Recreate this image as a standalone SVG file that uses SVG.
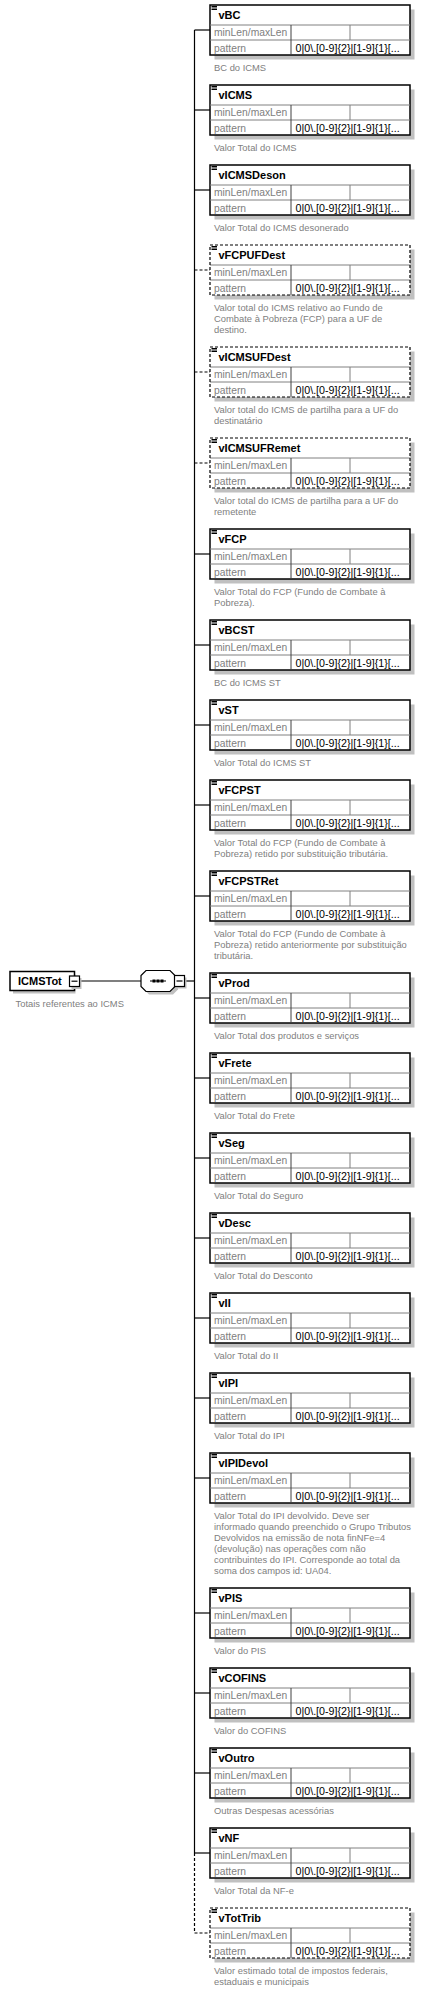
<svg xmlns="http://www.w3.org/2000/svg" xmlns:xlink="http://www.w3.org/1999/xlink" width="425" height="1991" viewBox="0 0 425 1991">
<style>
.bg{fill:#fff}
.sh{fill:#c0c0c0}
.box{fill:#fff;stroke:#000;stroke-width:1.5}
.dbox{fill:#fff;stroke:#000;stroke-width:1.2;stroke-dasharray:3,2}
.grid{stroke:#808080;stroke-width:1;fill:none}
.ico{stroke:#000;stroke-width:1;fill:none}
.ttl{font-family:"Liberation Sans",Arial,sans-serif;font-weight:bold;font-size:11px;fill:#000}
.lbl{font-family:"Liberation Sans",Arial,sans-serif;font-size:10.3px;fill:#808080}
.val{font-family:"Liberation Sans",Arial,sans-serif;font-size:10.7px;fill:#000}
.desc{font-family:"Liberation Sans",Arial,sans-serif;font-size:9.4px;fill:#808080}
.con{stroke:#000;stroke-width:1.2;fill:none}
.dcon{stroke:#000;stroke-width:1.2;fill:none;stroke-dasharray:3,2}
</style>
<defs>
<g id="tblInner">
<line class="grid" x1="0" y1="20" x2="200" y2="20"/>
<line class="grid" x1="0" y1="35" x2="200" y2="35"/>
<line class="grid" x1="81" y1="20" x2="81" y2="50" style="stroke:#404040"/>
<line class="grid" x1="140" y1="20" x2="140" y2="35"/>
<path class="ico" d="M1.5 1.5H7M1.5 3H7M1.5 4.5H7"/>
<text class="lbl" x="4" y="31">minLen/maxLen</text>
<text class="lbl" x="4" y="46.5">pattern</text>
<text class="val" x="85.5" y="46.5">0|0\.[0-9]{2}|[1-9]{1}[...</text>
</g>
<g id="tbl">
<rect class="sh" x="4.5" y="4.5" width="200" height="50"/>
<rect class="box" x="0" y="0" width="200" height="50"/>
<use href="#tblInner"/>
</g>
<g id="tblOpt">
<rect class="sh" x="4.5" y="4.5" width="200" height="50"/>
<rect class="bg" x="0" y="0" width="200" height="50"/>
<use href="#tblInner"/>
<rect class="dbox" x="0" y="0" width="200" height="50" style="fill:none"/>
</g>
</defs>
<rect x="0" y="0" width="425" height="1991" fill="#fff"/>

<g id="connectors">
<line class="con" x1="77" y1="981" x2="141" y2="981"/>
<line class="con" x1="184.5" y1="981" x2="194.5" y2="981"/>
<line class="con" x1="194.5" y1="30" x2="194.5" y2="1853"/>
<line class="dcon" x1="194.5" y1="1853" x2="194.5" y2="1933"/>
<line class="con" x1="194.5" y1="30" x2="210" y2="30"/>
<line class="con" x1="194.5" y1="110" x2="210" y2="110"/>
<line class="con" x1="194.5" y1="190" x2="210" y2="190"/>
<line class="dcon" x1="194.5" y1="270" x2="210" y2="270"/>
<line class="dcon" x1="194.5" y1="372" x2="210" y2="372"/>
<line class="dcon" x1="194.5" y1="463" x2="210" y2="463"/>
<line class="con" x1="194.5" y1="554" x2="210" y2="554"/>
<line class="con" x1="194.5" y1="645" x2="210" y2="645"/>
<line class="con" x1="194.5" y1="725" x2="210" y2="725"/>
<line class="con" x1="194.5" y1="805" x2="210" y2="805"/>
<line class="con" x1="194.5" y1="896" x2="210" y2="896"/>
<line class="con" x1="194.5" y1="998" x2="210" y2="998"/>
<line class="con" x1="194.5" y1="1078" x2="210" y2="1078"/>
<line class="con" x1="194.5" y1="1158" x2="210" y2="1158"/>
<line class="con" x1="194.5" y1="1238" x2="210" y2="1238"/>
<line class="con" x1="194.5" y1="1318" x2="210" y2="1318"/>
<line class="con" x1="194.5" y1="1398" x2="210" y2="1398"/>
<line class="con" x1="194.5" y1="1478" x2="210" y2="1478"/>
<line class="con" x1="194.5" y1="1613" x2="210" y2="1613"/>
<line class="con" x1="194.5" y1="1693" x2="210" y2="1693"/>
<line class="con" x1="194.5" y1="1773" x2="210" y2="1773"/>
<line class="con" x1="194.5" y1="1853" x2="210" y2="1853"/>
<line class="dcon" x1="194.5" y1="1933" x2="210" y2="1933"/>
</g>

<g id="ICMSTot">
<rect class="sh" x="13" y="974.5" width="62.5" height="19"/>
<rect class="box" x="10" y="971.5" width="64.5" height="19"/>
<text class="ttl" x="18" y="985">ICMSTot</text>
<rect class="sh" x="71.5" y="978" width="10" height="11"/>
<rect x="69.5" y="976" width="10" height="10.5" fill="#fff" stroke="#000" stroke-width="1.2"/>
<line x1="71.5" y1="981.2" x2="77.5" y2="981.2" stroke="#000" stroke-width="1.2"/>
<text class="desc" x="15.5" y="1007">Totais referentes ao ICMS</text>
</g>

<g id="sequence">
<polygon class="sh" points="149,973.5 173,973.5 178,978.5 178,989.5 173,994.5 149,994.5 144,989.5 144,978.5"/>
<polygon points="146,970.5 170,970.5 175,975.5 175,986.5 170,991.5 146,991.5 141,986.5 141,975.5" fill="#fff" stroke="#000" stroke-width="1.2"/>
<line x1="150" y1="981" x2="166" y2="981" stroke="#000" stroke-width="1"/>
<rect x="152.5" y="979.5" width="3" height="3" fill="#000"/>
<rect x="156.5" y="979.5" width="3" height="3" fill="#000"/>
<rect x="160.5" y="979.5" width="3" height="3" fill="#000"/>
<rect class="sh" x="176.5" y="977.5" width="10" height="11"/>
<rect x="174.5" y="975.5" width="10" height="11" fill="#fff" stroke="#000" stroke-width="1.2"/>
<line x1="176.5" y1="981" x2="182.5" y2="981" stroke="#000" stroke-width="1.2"/>
</g>

<g id="vBC" transform="translate(210,5)"><use href="#tbl"/><text class="ttl" x="8.5" y="14">vBC</text><text class="desc" x="4" y="65.5">BC do ICMS</text></g>
<g id="vICMS" transform="translate(210,85)"><use href="#tbl"/><text class="ttl" x="8.5" y="14">vICMS</text><text class="desc" x="4" y="65.5">Valor Total do ICMS</text></g>
<g id="vICMSDeson" transform="translate(210,165)"><use href="#tbl"/><text class="ttl" x="8.5" y="14">vICMSDeson</text><text class="desc" x="4" y="65.5">Valor Total do ICMS desonerado</text></g>
<g id="vFCPUFDest" transform="translate(210,245)"><use href="#tblOpt"/><text class="ttl" x="8.5" y="14">vFCPUFDest</text><text class="desc" x="4" y="65.5">Valor total do ICMS relativo ao Fundo de</text><text class="desc" x="4" y="76.5">Combate à Pobreza (FCP) para a UF de</text><text class="desc" x="4" y="87.5">destino.</text></g>
<g id="vICMSUFDest" transform="translate(210,347)"><use href="#tblOpt"/><text class="ttl" x="8.5" y="14">vICMSUFDest</text><text class="desc" x="4" y="65.5">Valor total do ICMS de partilha para a UF do</text><text class="desc" x="4" y="76.5">destinatário</text></g>
<g id="vICMSUFRemet" transform="translate(210,438)"><use href="#tblOpt"/><text class="ttl" x="8.5" y="14">vICMSUFRemet</text><text class="desc" x="4" y="65.5">Valor total do ICMS de partilha para a UF do</text><text class="desc" x="4" y="76.5">remetente</text></g>
<g id="vFCP" transform="translate(210,529)"><use href="#tbl"/><text class="ttl" x="8.5" y="14">vFCP</text><text class="desc" x="4" y="65.5">Valor Total do FCP (Fundo de Combate à</text><text class="desc" x="4" y="76.5">Pobreza).</text></g>
<g id="vBCST" transform="translate(210,620)"><use href="#tbl"/><text class="ttl" x="8.5" y="14">vBCST</text><text class="desc" x="4" y="65.5">BC do ICMS ST</text></g>
<g id="vST" transform="translate(210,700)"><use href="#tbl"/><text class="ttl" x="8.5" y="14">vST</text><text class="desc" x="4" y="65.5">Valor Total do ICMS ST</text></g>
<g id="vFCPST" transform="translate(210,780)"><use href="#tbl"/><text class="ttl" x="8.5" y="14">vFCPST</text><text class="desc" x="4" y="65.5">Valor Total do FCP (Fundo de Combate à</text><text class="desc" x="4" y="76.5">Pobreza) retido por substituição tributária.</text></g>
<g id="vFCPSTRet" transform="translate(210,871)"><use href="#tbl"/><text class="ttl" x="8.5" y="14">vFCPSTRet</text><text class="desc" x="4" y="65.5">Valor Total do FCP (Fundo de Combate à</text><text class="desc" x="4" y="76.5">Pobreza) retido anteriormente por substituição</text><text class="desc" x="4" y="87.5">tributária.</text></g>
<g id="vProd" transform="translate(210,973)"><use href="#tbl"/><text class="ttl" x="8.5" y="14">vProd</text><text class="desc" x="4" y="65.5">Valor Total dos produtos e serviços</text></g>
<g id="vFrete" transform="translate(210,1053)"><use href="#tbl"/><text class="ttl" x="8.5" y="14">vFrete</text><text class="desc" x="4" y="65.5">Valor Total do Frete</text></g>
<g id="vSeg" transform="translate(210,1133)"><use href="#tbl"/><text class="ttl" x="8.5" y="14">vSeg</text><text class="desc" x="4" y="65.5">Valor Total do Seguro</text></g>
<g id="vDesc" transform="translate(210,1213)"><use href="#tbl"/><text class="ttl" x="8.5" y="14">vDesc</text><text class="desc" x="4" y="65.5">Valor Total do Desconto</text></g>
<g id="vII" transform="translate(210,1293)"><use href="#tbl"/><text class="ttl" x="8.5" y="14">vII</text><text class="desc" x="4" y="65.5">Valor Total do II</text></g>
<g id="vIPI" transform="translate(210,1373)"><use href="#tbl"/><text class="ttl" x="8.5" y="14">vIPI</text><text class="desc" x="4" y="65.5">Valor Total do IPI</text></g>
<g id="vIPIDevol" transform="translate(210,1453)"><use href="#tbl"/><text class="ttl" x="8.5" y="14">vIPIDevol</text><text class="desc" x="4" y="65.5">Valor Total do IPI devolvido. Deve ser</text><text class="desc" x="4" y="76.5">informado quando preenchido o Grupo Tributos</text><text class="desc" x="4" y="87.5">Devolvidos na emissão de nota finNFe=4</text><text class="desc" x="4" y="98.5">(devolução) nas operações com não</text><text class="desc" x="4" y="109.5">contribuintes do IPI. Corresponde ao total da</text><text class="desc" x="4" y="120.5">soma dos campos id: UA04.</text></g>
<g id="vPIS" transform="translate(210,1588)"><use href="#tbl"/><text class="ttl" x="8.5" y="14">vPIS</text><text class="desc" x="4" y="65.5">Valor do PIS</text></g>
<g id="vCOFINS" transform="translate(210,1668)"><use href="#tbl"/><text class="ttl" x="8.5" y="14">vCOFINS</text><text class="desc" x="4" y="65.5">Valor do COFINS</text></g>
<g id="vOutro" transform="translate(210,1748)"><use href="#tbl"/><text class="ttl" x="8.5" y="14">vOutro</text><text class="desc" x="4" y="65.5">Outras Despesas acessórias</text></g>
<g id="vNF" transform="translate(210,1828)"><use href="#tbl"/><text class="ttl" x="8.5" y="14">vNF</text><text class="desc" x="4" y="65.5">Valor Total da NF-e</text></g>
<g id="vTotTrib" transform="translate(210,1908)"><use href="#tblOpt"/><text class="ttl" x="8.5" y="14">vTotTrib</text><text class="desc" x="4" y="65.5">Valor estimado total de impostos federais,</text><text class="desc" x="4" y="76.5">estaduais e municipais</text></g>
</svg>
